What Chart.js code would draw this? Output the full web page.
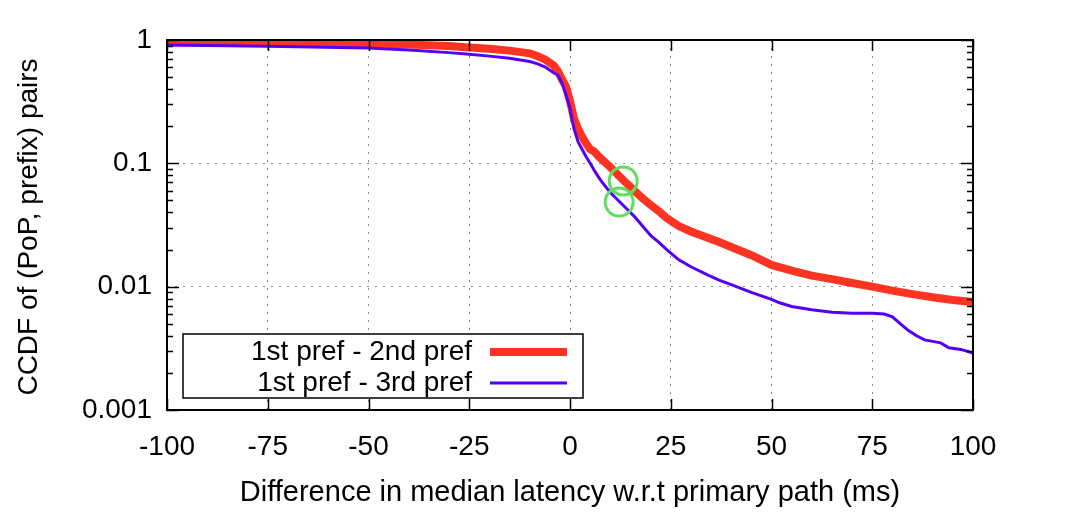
<!DOCTYPE html>
<html>
<head>
<meta charset="utf-8">
<script src="https://cdn.jsdelivr.net/npm/chart.js@4.4.1/dist/chart.umd.min.js"></script>
<style>
  html, body { margin: 0; padding: 0; background: #fff; }
  #wrap { width: 1080px; height: 516px; }
</style>
</head>
<body>
<div id="wrap"><canvas id="chart" width="1080" height="516"></canvas></div>
<script>
// data
const xTicks = [-100, -75, -50, -25, 0, 25, 50, 75, 100];
const yTicks = [0.001, 0.01, 0.1, 1];

const pref2X = [-100, -75, -50, -40, -30, -25, -20, -15, -10, -8, -6, -4, -3, -2, -1, 0, 1, 2, 3, 4, 5, 6, 7, 8, 9, 10, 12, 14, 16, 18, 20, 22, 24, 27, 30, 34, 37, 40, 45, 50, 55, 60, 65, 70, 75, 80, 85, 90, 95, 100];
const pref2Y = [0.96, 0.95, 0.94, 0.92, 0.895, 0.87, 0.85, 0.82, 0.78, 0.74, 0.69, 0.62, 0.56, 0.48, 0.42, 0.32, 0.23, 0.19, 0.165, 0.145, 0.13, 0.125, 0.115, 0.107, 0.10, 0.093, 0.080, 0.069, 0.060, 0.052, 0.046, 0.041, 0.036, 0.031, 0.028, 0.025, 0.023, 0.021, 0.018, 0.015, 0.0135, 0.0123, 0.0115, 0.0107, 0.0100, 0.0093, 0.0087, 0.0082, 0.0078, 0.0075];

const pref3X = [-100, -75, -50, -40, -30, -25, -20, -15, -10, -8, -6, -4, -3, -2, -1, 0, 1, 2, 3, 4, 5, 6, 7, 8, 10, 12, 14, 16, 18, 20, 22, 24, 27, 30, 34, 37, 40, 45, 50, 52, 55, 60, 65, 70, 75, 78, 80, 82, 84, 86, 88, 90, 92, 94, 97, 100];
const pref3Y = [0.91, 0.89, 0.86, 0.83, 0.79, 0.765, 0.74, 0.71, 0.67, 0.64, 0.60, 0.54, 0.52, 0.45, 0.36, 0.28, 0.19, 0.15, 0.13, 0.113, 0.10, 0.088, 0.078, 0.070, 0.058, 0.050, 0.043, 0.037, 0.031, 0.026, 0.023, 0.020, 0.0165, 0.0145, 0.0125, 0.0113, 0.0104, 0.0090, 0.0079, 0.0074, 0.0069, 0.0065, 0.0062, 0.0061, 0.0061, 0.0060, 0.0057, 0.0050, 0.0044, 0.0040, 0.0037, 0.0036, 0.0035, 0.0032, 0.0031, 0.0029];

// green circled points
const markX = [13.2, 12.2];
const markY = [0.072, 0.0485];

const legendLabels = ['1st pref - 2nd pref', '1st pref - 3rd pref'];
const xTitle = 'Difference in median latency w.r.t primary path (ms)';
const yTitle = 'CCDF of (PoP, prefix) pairs';

const RED = '#ff3322';
const BLUE = '#5500f5';
const GREEN = '#5ee05a';
const FONT = '"Liberation Sans", Arial, sans-serif';

const toPts = (xs, ys) => xs.map((x, i) => ({ x: x, y: ys[i] }));

// frame, inward ticks, titles and legend in gnuplot style
const gnuplotDecor = {
    id: 'gnuplotDecor',
    afterDatasetsDraw(chart) {
        const ctx = chart.ctx;
        const a = chart.chartArea;
        const xs = chart.scales.x;
        const ys = chart.scales.y;
        ctx.save();
        ctx.strokeStyle = '#000';
        ctx.lineWidth = 1.5;

        // x ticks, bottom and top
        xTicks.forEach(v => {
            const px = Math.round(xs.getPixelForValue(v)) + 0.5;
            ctx.beginPath();
            ctx.moveTo(px, a.bottom); ctx.lineTo(px, a.bottom - 11);
            ctx.moveTo(px, a.top); ctx.lineTo(px, a.top + 11);
            ctx.stroke();
        });

        // y ticks with minor ones
        for (let d = -3; d <= 0; d++) {
            for (let m = 1; m <= 9; m++) {
                const v = m * Math.pow(10, d);
                if (v > 1 || (d === 0 && m > 1)) continue;
                const py = Math.round(ys.getPixelForValue(v)) + 0.5;
                const len = m === 1 ? 12 : 6;
                ctx.beginPath();
                ctx.moveTo(a.left, py); ctx.lineTo(a.left + len, py);
                ctx.moveTo(a.right, py); ctx.lineTo(a.right - len, py);
                ctx.stroke();
            }
        }

        ctx.lineWidth = 2;
        ctx.strokeRect(a.left, a.top, a.right - a.left, a.bottom - a.top);

        // legend box
        const bx = 183, by = 334, bw = 400, bh = 64;
        ctx.lineWidth = 1.5;
        ctx.fillStyle = '#fff';
        ctx.fillRect(bx, by, bw, bh);
        ctx.strokeRect(bx, by, bw, bh);
        ctx.fillStyle = '#000';
        ctx.font = '28px ' + FONT;
        ctx.textAlign = 'right';
        ctx.textBaseline = 'middle';
        const rows = [by + 18, by + 49];
        const colors = [RED, BLUE];
        const widths = [8, 3];
        legendLabels.forEach((t, i) => {
            ctx.fillText(t, 472, rows[i]);
            ctx.strokeStyle = colors[i];
            ctx.lineWidth = widths[i];
            ctx.beginPath();
            ctx.moveTo(490, rows[i]); ctx.lineTo(567, rows[i]);
            ctx.stroke();
        });

        // axis titles
        ctx.fillStyle = '#000';
        ctx.textAlign = 'center';
        ctx.font = '29px ' + FONT;
        ctx.fillText(xTitle, (a.left + a.right) / 2, 493);
        ctx.font = '28px ' + FONT;
        ctx.translate(29, (a.top + a.bottom) / 2 + 2);
        ctx.rotate(-Math.PI / 2);
        ctx.fillText(yTitle, 0, 0);
        ctx.restore();
    }
};

new Chart(document.getElementById('chart'), {
    type: 'scatter',
    data: {
        datasets: [
            {
                label: legendLabels[0],
                data: toPts(pref2X, pref2Y),
                showLine: true,
                borderColor: RED,
                backgroundColor: RED,
                borderWidth: 8,
                pointRadius: 0,
                order: 2
            },
            {
                label: legendLabels[1],
                data: toPts(pref3X, pref3Y),
                showLine: true,
                borderColor: BLUE,
                backgroundColor: BLUE,
                borderWidth: 3,
                pointRadius: 0,
                order: 1
            },
            {
                label: 'marks',
                data: toPts(markX, markY),
                showLine: false,
                pointRadius: 14,
                pointBorderWidth: 3,
                pointBorderColor: GREEN,
                pointBackgroundColor: 'rgba(0,0,0,0)',
                order: 0
            }
        ]
    },
    options: {
        responsive: false,
        animation: false,
        layout: { padding: { top: 40, right: 107, left: 0, bottom: 0 } },
        plugins: {
            legend: { display: false },
            tooltip: { enabled: false }
        },
        scales: {
            x: {
                type: 'linear',
                min: -100,
                max: 100,
                afterBuildTicks: (s) => { s.ticks = xTicks.map(v => ({ value: v })); },
                afterFit: (s) => { s.height = 106; },
                ticks: {
                    color: '#000',
                    font: { family: FONT, size: 28 },
                    padding: 20,
                    maxRotation: 0,
                    callback: (v) => String(v)
                },
                grid: {
                    color: (c) => (c.tick && (c.tick.value === -100 || c.tick.value === 100)) ? 'rgba(0,0,0,0)' : '#8a8a8a',
                    lineWidth: 1,
                    drawTicks: false
                },
                border: { display: false, dash: [2, 6] }
            },
            y: {
                type: 'logarithmic',
                min: 0.001,
                max: 1,
                afterBuildTicks: (s) => { s.ticks = yTicks.map(v => ({ value: v })); },
                afterFit: (s) => { s.width = 167; },
                ticks: {
                    color: '#000',
                    font: { family: FONT, size: 28 },
                    padding: 15,
                    callback: (v) => String(v)
                },
                grid: {
                    color: (c) => (c.tick && (c.tick.value === 1 || c.tick.value === 0.001)) ? 'rgba(0,0,0,0)' : '#8a8a8a',
                    lineWidth: 1,
                    drawTicks: false
                },
                border: { display: false, dash: [2, 6] }
            }
        }
    },
    plugins: [gnuplotDecor]
});
</script>
</body>
</html>
